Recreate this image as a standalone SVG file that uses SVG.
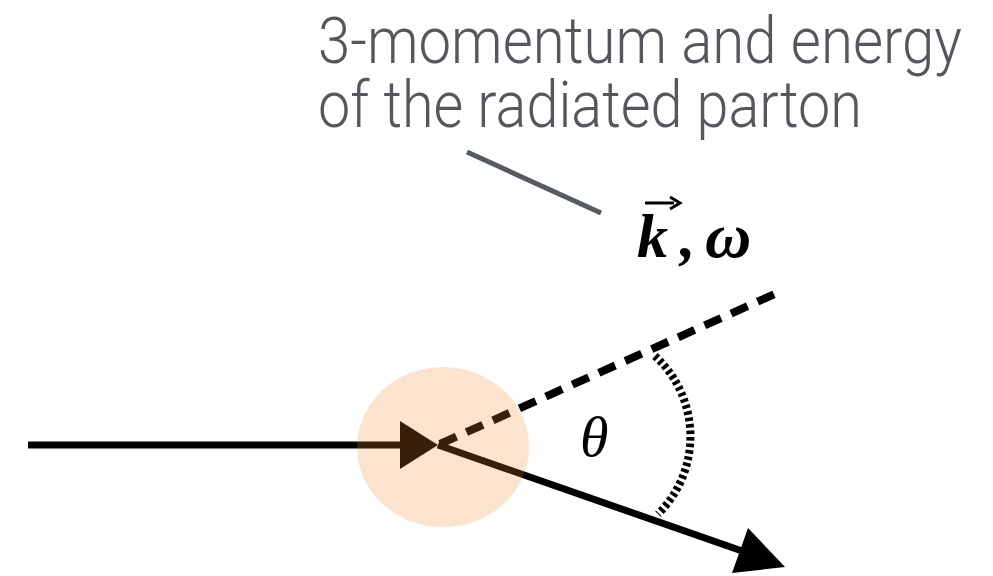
<svg xmlns="http://www.w3.org/2000/svg" width="993" height="576" viewBox="0 0 993 576">
<style>
.cap{font-family:Roboto,"Liberation Sans",sans-serif;font-weight:300;font-size:65px;fill:#54585e}
.math{font-family:"Liberation Serif","DejaVu Serif",serif;font-style:italic;fill:#000}
.solid{stroke:#000;stroke-width:7;fill:none}
</style>
<rect width="993" height="576" fill="#fff"/>
<g id="caption">
<text class="cap" x="318" y="63" textLength="644" lengthAdjust="spacingAndGlyphs">3-momentum and energy</text>
<text class="cap" x="318" y="127" textLength="544" lengthAdjust="spacingAndGlyphs">of the radiated parton</text>
</g>
<g id="connectors">
<line x1="467" y1="152" x2="601" y2="213" stroke="#555b61" stroke-width="5"/>
<line class="solid" x1="28" y1="445" x2="405" y2="445"/>
<polygon points="400,421 438,445 400,469" fill="#000"/>
<line x1="440" y1="444" x2="777" y2="293" stroke="#000" stroke-width="8" stroke-dasharray="18 11"/>
<line class="solid" x1="438" y1="445" x2="745" y2="552"/>
<polygon points="748,528 785,567 732,573" fill="#000"/>
<path d="M655,356 A109,109 0 0 1 658,514" fill="none" stroke="#000" stroke-width="8" stroke-dasharray="3.5 3"/>
</g>
<g id="vertex">
<ellipse cx="443" cy="447" rx="86" ry="80" fill="#f2852a" fill-opacity="0.23"/>
</g>
<g id="k-label">
<text class="math" x="637" y="257" font-size="62" font-weight="bold">k<tspan x="680">,</tspan><tspan x="705" font-size="64">ω</tspan></text>
<line x1="645" y1="203" x2="674" y2="203" stroke="#000" stroke-width="3"/>
<path d="M670,197 L680,203 L670,209" fill="none" stroke="#000" stroke-width="3"/>
</g>
<g id="theta">
<text class="math" x="580" y="456" font-size="58">θ</text>
</g>
</svg>
